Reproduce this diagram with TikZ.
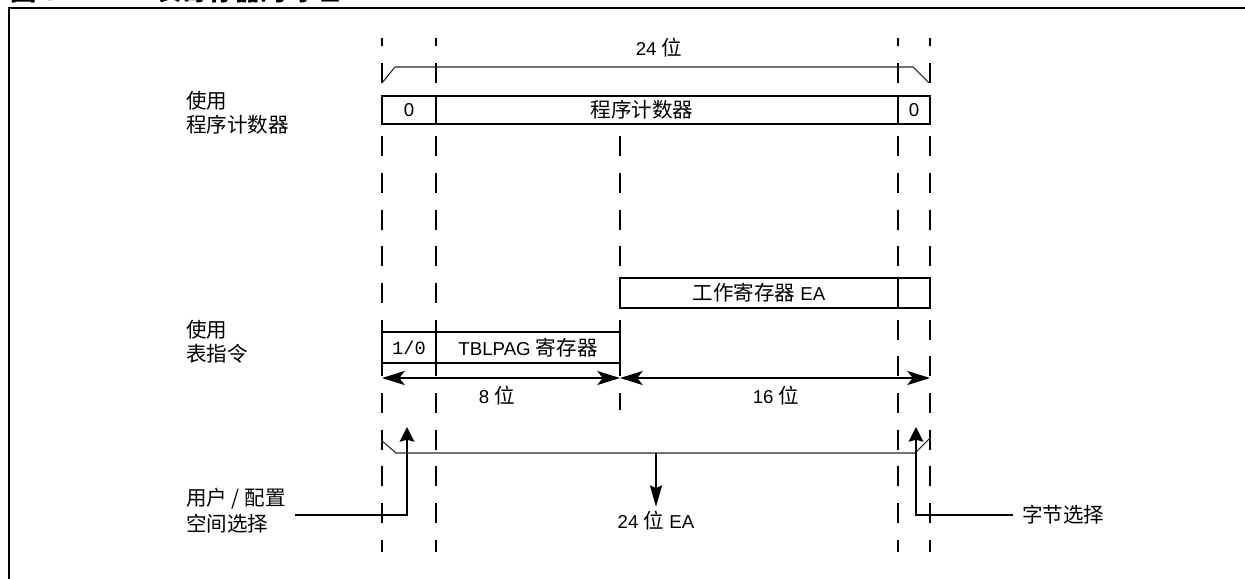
\documentclass[tikz,border=0pt]{standalone}
\usepackage{fontspec}
\setmainfont{Liberation Sans}
\setmonofont{Liberation Mono}
\newfontfamily\cjk{Noto Sans CJK SC}[Scale=1.1]
\usetikzlibrary{arrows.meta}
\tikzset{
  dl/.style={line width=1.4pt, dash pattern=on 15pt off 12.5pt},
  brk/.style={line width=0.8pt, black!85},
  cell/.style={draw, line width=1.5pt, inner sep=0pt, anchor=center},
  dimarr/.style={line width=1.5pt, {Stealth[length=17pt,width=10.5pt,inset=4pt]}-{Stealth[length=17pt,width=10.5pt,inset=4pt]}},
  upa/.style={line width=1.5pt, -{Stealth[length=11pt,width=11pt,inset=1.5pt]}},
  dna/.style={line width=1.5pt, -{Stealth[length=16pt,width=9pt,inset=2pt]}},
  lbl/.style={align=left, anchor=west, inner sep=0pt, font=\fontsize{14}{18}\selectfont\cjk},
}
\begin{document}
\begin{tikzpicture}[x=0.75pt,y=-0.75pt,font=\fontsize{14}{18}\selectfont]
\useasboundingbox (0,0) rectangle (1245,578);
% frame and clipped title
\draw[line width=2.2pt] (9,600) -- (9,8) -- (1260,8);
\node[anchor=base west, inner sep=0pt, font=\fontsize{18}{20}\selectfont\bfseries] (t1) at (10,0) {{\cjk\bfseries 图} 5-7:};
\node[anchor=base west, inner sep=0pt, font=\fontsize{18}{20}\selectfont\cjk\bfseries] (t2) at (155,0) {表寄存器的寻址};
% guide lines
\foreach \x in {382,436,898,930} \draw[dl, dash phase=8.8pt] (\x,38) -- (\x,552);
\draw[dl, dash phase=18.3pt] (620,124) -- (620,410);
% 24 bit
\node (b24) at (659,48) {24 {\cjk 位}};
\draw[brk] (382,83) -- (395,67) -- (913,67) -- (929,83);
% program counter row
\node[lbl] (lpc) at (186,113) {使用\\程序计数器};
\node[cell, minimum width=40.5pt, minimum height=21pt] (pc0) at (409,110) {0};
\node[cell, minimum width=346.5pt, minimum height=21pt] (pcm) at (667,110) {};
\node (pct) at (642,110) {\cjk 程序计数器};
\node[cell, minimum width=24pt, minimum height=21pt] (pc1) at (914,110) {0};
% working register
\node[cell, minimum width=208.5pt, minimum height=22.5pt] (wr) at (759,293) {{\cjk 工作寄存器} EA};
\node[cell, minimum width=24pt, minimum height=22.5pt] (wr1) at (914,293) {};
% TBLPAG row
\node[lbl] (ltb) at (186,342) {使用\\表指令};
\node[cell, minimum width=40.5pt, minimum height=23.25pt, font=\fontsize{14}{18}\selectfont\ttfamily] (tb0) at (409,347.5) {1/0};
\node[cell, minimum width=138pt, minimum height=23.25pt] (tb1) at (528,347.5) {TBLPAG {\cjk 寄存器}};
% dimensions
\coordinate (d0) at (382,378);
\coordinate (d1) at (620,378);
\coordinate (d2) at (930,378);
\draw[dimarr] (d0) -- (d1);
\draw[dimarr] (d1) -- (d2);
\node (l8) at (497,396) {8 {\cjk 位}};
\node (l16) at (776,396) {16 {\cjk 位}};
% bottom bracket and EA
\draw[brk] (381,440) -- (396,453) -- (915,453) -- (930,438);
\coordinate (bm) at (656,453);
\node (ea) at (656,521) {24 {\cjk 位} EA};
\draw[dna] (bm) -- (ea.north);
% selections
\node[lbl, font=\fontsize{14}{19.5}\selectfont\cjk] (us) at (186,511) {用户 / 配置\\空间选择};
\coordinate (ust) at (407,427);
\draw[upa] ([xshift=7pt,yshift=-3pt]us.east) -| (ust);
\node[lbl] (bs) at (1022,515) {字节选择};
\coordinate (bst) at (916,427);
\draw[upa] ([xshift=-7pt]bs.west) -| (bst);
\end{tikzpicture}
\end{document}
